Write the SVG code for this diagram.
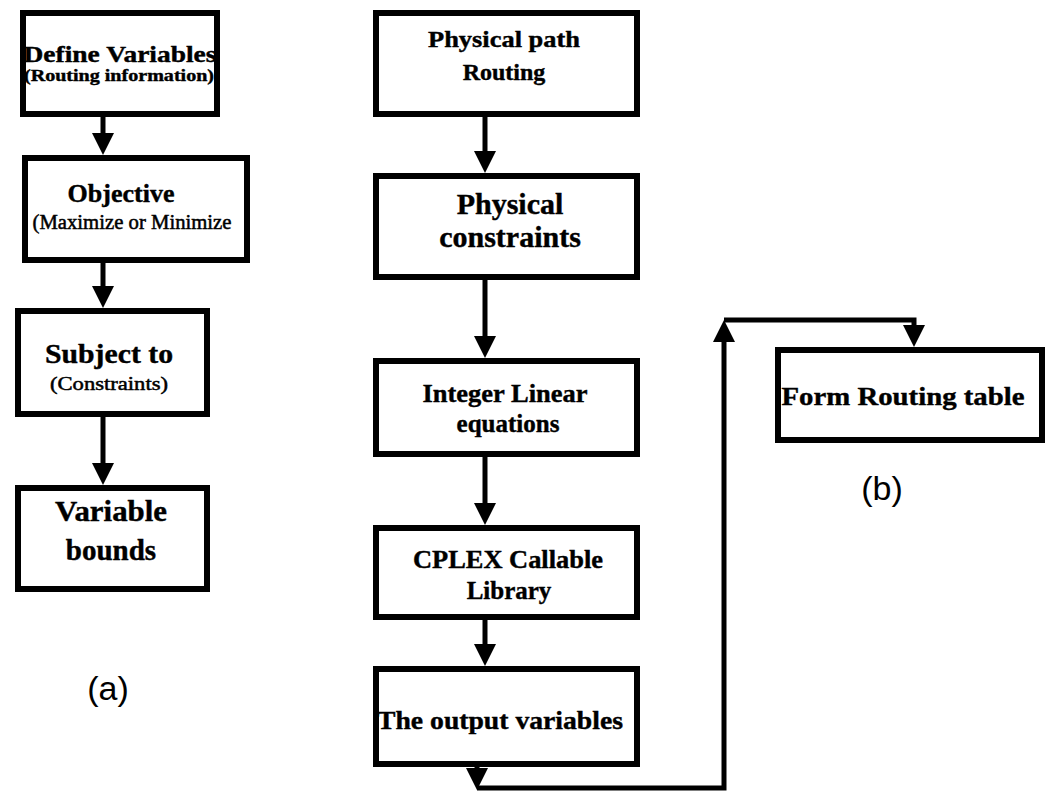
<svg xmlns="http://www.w3.org/2000/svg" width="1047" height="796" viewBox="0 0 1047 796">
  <style>
    .box { fill: #fff; stroke: #000; stroke-width: 6; }
    .t { font-family: "Liberation Serif", "Times New Roman", serif; font-weight: bold; fill: #000; stroke: #000; stroke-width: 0.4; text-anchor: middle; }
    .r { font-family: "Liberation Serif", "Times New Roman", serif; font-weight: normal; fill: #000; stroke: #000; stroke-width: 0.5; text-anchor: middle; }
    .lab { font-family: "Liberation Sans", Arial, sans-serif; fill: #000; text-anchor: middle; font-size: 34px; }
    .wire { fill: none; stroke: #000; stroke-width: 5; }
  </style>
  <defs>
    <marker id="ah" viewBox="0 0 22 22" refX="0" refY="11" markerWidth="22" markerHeight="22" markerUnits="userSpaceOnUse" orient="auto">
      <path d="M0,0 L22,11 L0,22 z" fill="#000"/>
    </marker>
  </defs>

  <!-- connectors -->
  <g id="connectors">
    <path class="wire" d="M103,117 V133" marker-end="url(#ah)"/>
    <path class="wire" d="M103,263 V286" marker-end="url(#ah)"/>
    <path class="wire" d="M103,417 V463" marker-end="url(#ah)"/>
    <path class="wire" d="M485,117 V151" marker-end="url(#ah)"/>
    <path class="wire" d="M485,280 V336" marker-end="url(#ah)"/>
    <path class="wire" d="M485,457 V503" marker-end="url(#ah)"/>
    <path class="wire" d="M485,620 V644" marker-end="url(#ah)"/>
    <path class="wire" d="M477,767 V768" marker-end="url(#ah)"/>
    <path class="wire" d="M477,788 H724 V342" marker-end="url(#ah)"/>
    <path class="wire" d="M724,320 H914 V325" marker-end="url(#ah)"/>
  </g>

  <!-- (a) column -->
  <g id="define-variables">
    <rect class="box" x="23" y="13" width="194" height="101"/>
    <text class="t" x="120" y="62" font-size="23" textLength="193" lengthAdjust="spacingAndGlyphs">Define Variables</text>
    <text class="t" x="119" y="81" font-size="17" textLength="190" lengthAdjust="spacingAndGlyphs">(Routing information)</text>
  </g>
  <g id="objective">
    <rect class="box" x="25" y="158" width="222" height="102"/>
    <text class="t" x="121" y="202" font-size="26">Objective</text>
    <text class="r" x="132" y="229" font-size="20" textLength="199" lengthAdjust="spacingAndGlyphs">(Maximize or Minimize</text>
  </g>
  <g id="subject-to">
    <rect class="box" x="18" y="311" width="189" height="103"/>
    <text class="t" x="109" y="363" font-size="28" textLength="128" lengthAdjust="spacingAndGlyphs">Subject to</text>
    <text class="r" x="109" y="390" font-size="19" textLength="118" lengthAdjust="spacingAndGlyphs">(Constraints)</text>
  </g>
  <g id="variable-bounds">
    <rect class="box" x="18" y="488" width="189" height="101"/>
    <text class="t" x="111" y="521" font-size="29" textLength="112" lengthAdjust="spacingAndGlyphs">Variable</text>
    <text class="t" x="111" y="560" font-size="29">bounds</text>
  </g>
  <text id="label-a" class="lab" x="108" y="700">(a)</text>

  <!-- (b) column -->
  <g id="physical-path-routing">
    <rect class="box" x="376" y="13" width="261" height="101"/>
    <text class="t" x="504" y="47" font-size="24" textLength="152" lengthAdjust="spacingAndGlyphs">Physical path</text>
    <text class="t" x="504" y="80" font-size="24">Routing</text>
  </g>
  <g id="physical-constraints">
    <rect class="box" x="376" y="176" width="261" height="101"/>
    <text class="t" x="510" y="214" font-size="30">Physical</text>
    <text class="t" x="510" y="247" font-size="30">constraints</text>
  </g>
  <g id="integer-linear">
    <rect class="box" x="376" y="361" width="261" height="93"/>
    <text class="t" x="505" y="402" font-size="25" textLength="165" lengthAdjust="spacingAndGlyphs">Integer Linear</text>
    <text class="t" x="508" y="432" font-size="25">equations</text>
  </g>
  <g id="cplex">
    <rect class="box" x="376" y="528" width="261" height="89"/>
    <text class="t" x="508" y="568" font-size="25" textLength="190" lengthAdjust="spacingAndGlyphs">CPLEX Callable</text>
    <text class="t" x="509" y="599" font-size="25">Library</text>
  </g>
  <g id="output-variables">
    <rect class="box" x="376" y="669" width="261" height="95"/>
    <text class="t" x="500" y="729" font-size="26" textLength="246" lengthAdjust="spacingAndGlyphs">The output variables</text>
  </g>
  <g id="form-routing-table">
    <rect class="box" x="778" y="350" width="264" height="90"/>
    <text class="t" x="903" y="405" font-size="26" textLength="243" lengthAdjust="spacingAndGlyphs">Form Routing table</text>
  </g>
  <text id="label-b" class="lab" x="882" y="500">(b)</text>
</svg>
